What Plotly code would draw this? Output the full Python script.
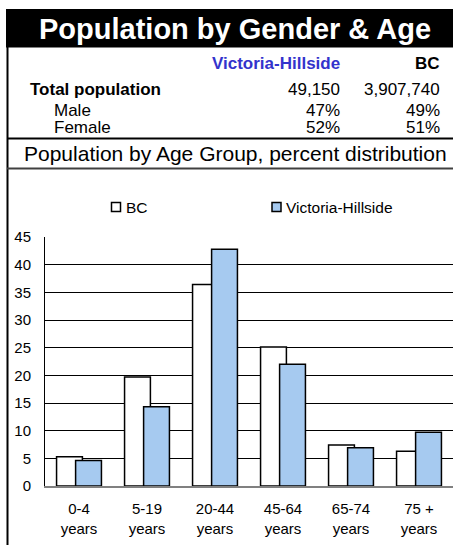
import plotly.graph_objects as go

# ---------------- data ----------------
age_groups = ["0-4", "5-19", "20-44", "45-64", "65-74", "75 +"]
tick_labels = ["0-4<br>years", "5-19<br>years", "20-44<br>years",
               "45-64<br>years", "65-74<br>years", "75 +<br>years"]
bc_values = [5.3, 19.7, 36.4, 25.1, 7.4, 6.3]
vh_values = [4.6, 14.3, 42.8, 22.0, 6.9, 9.7]
series_names = ["BC", "Victoria-Hillside"]

table_columns = ["Victoria-Hillside", "BC"]
table_rows = ["Total population", "Male", "Female"]
vh_table = ["49,150", "47%", "52%"]
bc_table = ["3,907,740", "49%", "51%"]

title_text = "Population by Gender & Age"
subtitle_text = "Population by Age Group, percent distribution"

# ---------------- style ----------------
W, H = 453, 545
ML, MR, MT, MB = 45, 0, 237, 59
PW, PH = W - ML - MR, H - MT - MB
FONT = "Liberation Sans, Arial, sans-serif"
BC_COLOR = "#FFFFFF"
VH_COLOR = "#A6CAF0"
BLUE_TEXT = "#3333CC"


def px(xp):
    return (xp - ML) / PW


def py(yp):
    return (H - MB - yp) / PH


fig = go.Figure()
fig.add_trace(go.Bar(
    x=age_groups, y=bc_values, name=series_names[0],
    marker=dict(color=BC_COLOR, line=dict(color="black", width=1.5)),
    width=0.38, offset=-0.33, showlegend=False,
))
fig.add_trace(go.Bar(
    x=age_groups, y=vh_values, name=series_names[1],
    marker=dict(color=VH_COLOR, line=dict(color="black", width=1.5)),
    width=0.38, offset=-0.05, showlegend=False,
))

shapes = []
annotations = []

# title bar
shapes.append(dict(type="rect", xref="paper", yref="paper",
                   x0=px(6), x1=px(460), y0=py(9), y1=py(47.5),
                   fillcolor="black", line=dict(width=0), layer="above"))
annotations.append(dict(text="<b>%s</b>" % title_text, xref="paper", yref="paper",
                        x=px(234.5), y=py(28.5), xanchor="center", yanchor="middle",
                        showarrow=False, font=dict(family=FONT, size=29, color="white")))

# left border and separators
shapes.append(dict(type="line", xref="paper", yref="paper",
                   x0=px(7.5), x1=px(7.5), y0=py(47), y1=py(548),
                   line=dict(color="black", width=2)))
shapes.append(dict(type="line", xref="paper", yref="paper",
                   x0=px(7), x1=px(460), y0=py(138.5), y1=py(138.5),
                   line=dict(color="black", width=2)))
shapes.append(dict(type="line", xref="paper", yref="paper",
                   x0=px(7), x1=px(460), y0=py(168.5), y1=py(168.5),
                   line=dict(color="#404040", width=2)))

# table
col_right = [341.5, 441.5]
header_y = 63.5
annotations.append(dict(text="<b>%s</b>" % table_columns[0], xref="paper", yref="paper",
                        x=px(col_right[0]), y=py(header_y), xanchor="right", yanchor="middle",
                        showarrow=False, font=dict(family=FONT, size=17, color=BLUE_TEXT)))
annotations.append(dict(text="<b>%s</b>" % table_columns[1], xref="paper", yref="paper",
                        x=px(col_right[1]), y=py(header_y), xanchor="right", yanchor="middle",
                        showarrow=False, font=dict(family=FONT, size=17, color="black")))
row_y = [89.5, 111, 127.5]
row_x = [28, 51.5, 51.5]
for i, name in enumerate(table_rows):
    label = "<b>%s</b>" % name if i == 0 else name
    annotations.append(dict(text=label, xref="paper", yref="paper",
                            x=px(row_x[i]), y=py(row_y[i]), xanchor="left", yanchor="middle",
                            showarrow=False, font=dict(family=FONT, size=17, color="black")))
    annotations.append(dict(text=vh_table[i], xref="paper", yref="paper",
                            x=px(col_right[0]), y=py(row_y[i]), xanchor="right", yanchor="middle",
                            showarrow=False, font=dict(family=FONT, size=17, color="black")))
    annotations.append(dict(text=bc_table[i], xref="paper", yref="paper",
                            x=px(col_right[1]), y=py(row_y[i]), xanchor="right", yanchor="middle",
                            showarrow=False, font=dict(family=FONT, size=17, color="black")))

# subtitle
annotations.append(dict(text=subtitle_text, xref="paper", yref="paper",
                        x=px(235), y=py(153), xanchor="center", yanchor="middle",
                        showarrow=False, font=dict(family=FONT, size=21, color="black")))

# legend (manual)
leg_y = 207
leg_sq = [(111.5, BC_COLOR), (272, VH_COLOR)]
for (sx, col), name in zip(leg_sq, series_names):
    shapes.append(dict(type="rect", xref="paper", yref="paper",
                       x0=px(sx), x1=px(sx + 9), y0=py(leg_y - 4.5), y1=py(leg_y + 4.5),
                       fillcolor=col, line=dict(color="black", width=1.5)))
    annotations.append(dict(text=name, xref="paper", yref="paper",
                            x=px(sx + 12), y=py(leg_y), xanchor="left", yanchor="middle",
                            showarrow=False, font=dict(family=FONT, size=15.5, color="black")))

fig.update_layout(
    width=W, height=H,
    margin=dict(l=ML, r=MR, t=MT, b=MB, pad=0),
    paper_bgcolor="white", plot_bgcolor="white",
    barmode="overlay",
    showlegend=False,
    shapes=shapes, annotations=annotations,
    font=dict(family=FONT, size=15, color="black"),
    xaxis=dict(type="category", range=[-0.5, 5.5], tickmode="array",
               tickvals=age_groups, ticktext=tick_labels,
               showline=True, linecolor="#808080", linewidth=2,
               showgrid=False, zeroline=False, ticks="", ticklabelstandoff=8,
               tickfont=dict(family=FONT, size=15, color="black")),
    yaxis=dict(range=[0, 45], dtick=5, tick0=0,
               showline=True, linecolor="black", linewidth=1,
               showgrid=True, gridcolor="black", gridwidth=1,
               zeroline=False, ticks="", ticklabelstandoff=10,
               tickfont=dict(family=FONT, size=15, color="black")),
)

fig.write_html(
    "out.html",
    config={"displayModeBar": False},
    post_script="document.body.style.margin='0';document.body.style.overflow='hidden';",
)
